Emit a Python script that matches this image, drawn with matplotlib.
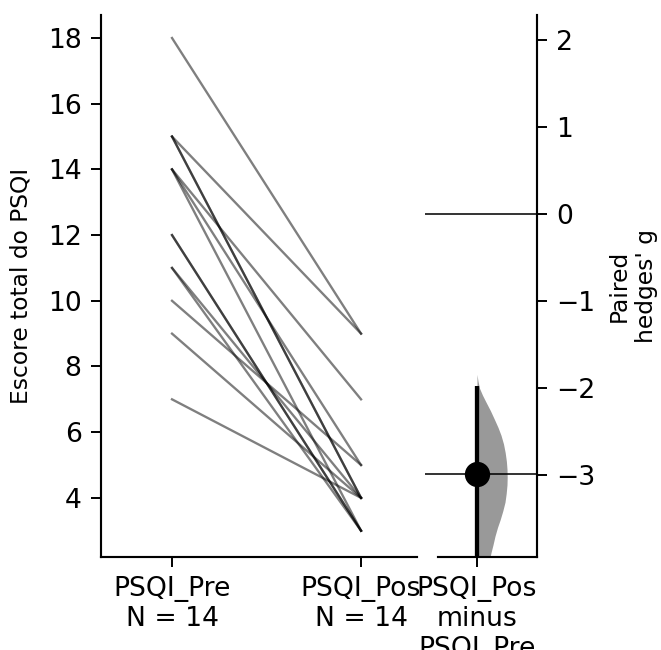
import numpy as np
import matplotlib
matplotlib.use('Agg')
import matplotlib.pyplot as plt

# paired scores, one entry per subject
pre_scores = [18, 15, 15, 15, 14, 14, 14, 12, 12, 11, 11, 10, 9, 7]
pos_scores = [9, 9, 4, 4, 7, 3, 5, 3, 3, 4, 3, 5, 4, 4]
group_labels = ["PSQI_Pre\nN = 14", "PSQI_Pos\nN = 14"]
contrast_label = "PSQI_Pos\nminus\nPSQI_Pre"

# paired hedges' g and its 95% CI (lower end runs off the axis)
effect_size = -2.99
ci_low, ci_high = -4.3, -1.98

# bootstrap distribution outline: g value, half width (px)
dist_g = [-1.84, -1.92, -2.0, -2.08, -2.16, -2.26, -2.36, -2.45, -2.54, -2.64, -2.74,
          -2.84, -2.93, -3.02, -3.11, -3.21, -3.31, -3.41, -3.51, -3.60, -3.70, -3.80, -3.89, -4.0]
dist_w = [0, 1.0, 2.5, 5.5, 9, 13.5, 17.5, 21, 24, 26.5, 28.2,
          29.4, 30, 30.2, 30, 29.2, 28, 25.8, 23.2, 20.5, 18, 16, 14, 12]

W, H = 661, 650
DPI = 140
fig = plt.figure(figsize=(W / DPI, H / DPI), dpi=DPI)
plt.rcParams['font.size'] = 13.7
plt.rcParams['axes.linewidth'] = 1.1
for k in ('xtick', 'ytick'):
    plt.rcParams[k + '.major.size'] = 5
    plt.rcParams[k + '.major.pad'] = 5
    plt.rcParams[k + '.major.width'] = 1.0

def px_axes(x0, y0, x1, y1):
    return fig.add_axes([x0 / W, 1 - y1 / H, (x1 - x0) / W, (y1 - y0) / H])

# raw data axes
ax = px_axes(101, 15, 417, 557)
for a, b in zip(pre_scores, pos_scores):
    ax.plot([0, 1], [a, b], color='black', alpha=0.5, linewidth=1.2)
ax.set_xlim(-0.3757, 1.296)
ax.set_ylim(2.2, 18.7)
ax.set_yticks(np.arange(4, 19, 2))
ax.set_xticks([0, 1])
ax.set_xticklabels(group_labels)
ax.set_ylabel("Escore total do PSQI", fontsize=12, labelpad=8)
ax.spines['top'].set_visible(False)
ax.spines['right'].set_visible(False)

# contrast axes
cx = px_axes(425, 15, 537, 557)
scale = 112.0  # px per x unit
cx.set_xlim(-(477 - 425) / scale, (537 - 477) / scale)
cx.set_ylim(-3.94, 2.29)
cx.axhline(0, color='black', linewidth=0.8)
cx.axhline(effect_size, color='black', linewidth=0.8)
w = np.array(dist_w) / scale
cx.fill_betweenx(dist_g, 0, w, color='#999999', linewidth=0)
cx.plot([0, 0], [ci_low, ci_high], color='black', linewidth=2.2, solid_capstyle='butt')
cx.plot([0], [effect_size], 'o', color='black', markersize=12)
cx.set_xticks([0])
cx.set_xticklabels([contrast_label])
cx.set_yticks(np.arange(-3, 3, 1))
cx.yaxis.tick_right()
cx.spines['top'].set_visible(False)
cx.spines['left'].set_visible(False)
cx.spines['bottom'].set_bounds((438 - 477) / scale, (537 - 477) / scale)

fig.text(633 / W, 1 - 286 / H, "Paired\nhedges' g", rotation=90, fontsize=12,
         ha='center', va='center', multialignment='center')

fig.savefig('out.png', dpi=DPI)
